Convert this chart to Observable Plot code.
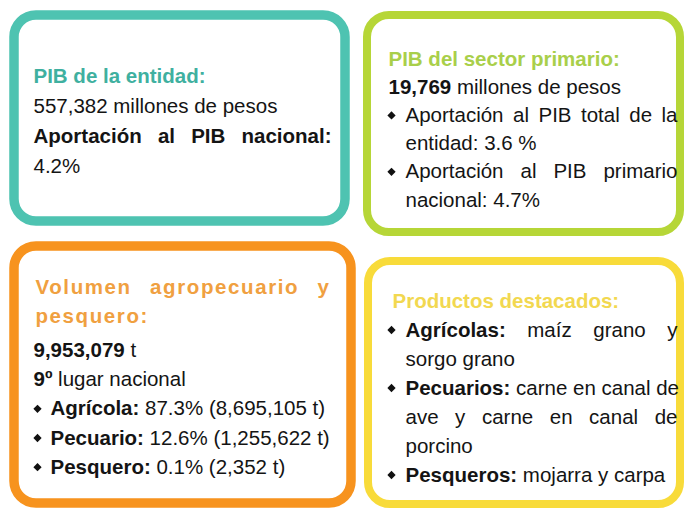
<!DOCTYPE html>
<html><head><meta charset="utf-8">
<script src="https://cdn.jsdelivr.net/npm/d3@7"></script>
<script src="https://cdn.jsdelivr.net/npm/@observablehq/plot@0.6"></script>
<style>
html,body{margin:0;padding:0;background:#fff;}
#chart svg text{white-space:pre;}
</style>
</head><body><div id="chart"></div>
<script>
// ---------- DATA (content) ----------
const titleEntidad = ["PIB de la entidad:"];
const parrafosEntidad = [
  {bullet: false, lines: [["", "557,382 millones de pesos"]]},
  {bullet: false, lines: [["Aportación al PIB nacional:", ""], ["", "4.2%"]]}
];

const titlePrimario = ["PIB del sector primario:"];
const parrafosPrimario = [
  {bullet: false, lines: [["19,769", " millones de pesos"]]},
  {bullet: true, lines: [["", "Aportación al PIB total de la"], ["", "entidad: 3.6 %"]]},
  {bullet: true, lines: [["", "Aportación al PIB primario"], ["", "nacional: 4.7%"]]}
];

const titleVolumen = ["Volumen agropecuario y", "pesquero:"];
const volumenTotal = "9,953,079";
const lugarNacional = "9º";
const volumenCategorias = ["Agrícola", "Pecuario", "Pesquero"];
const volumenPct = ["87.3%", "12.6%", "0.1%"];
const volumenTon = ["8,695,105", "1,255,622", "2,352"];
const parrafosVolumen = [
  {bullet: false, lines: [[volumenTotal, " t"]]},
  {bullet: false, lines: [[lugarNacional, " lugar nacional"]]},
  ...volumenCategorias.map((c, i) => ({bullet: true, lines: [[c + ":", ` ${volumenPct[i]} (${volumenTon[i]} t)`]]}))
];

const titleProductos = ["Productos destacados:"];
const parrafosProductos = [
  {bullet: true, lines: [["Agrícolas:", " maíz grano y"], ["", "sorgo grano"]]},
  {bullet: true, lines: [["Pecuarios:", " carne en canal de"], ["", "ave y carne en canal de"], ["", "porcino"]]},
  {bullet: true, lines: [["Pesqueros:", " mojarra y carpa"]]}
];

// ---------- LAYOUT / STYLE ----------
const W = 685, H = 509;
const FONT = "'Liberation Sans', Arial, Helvetica, sans-serif";
const FS = 20.5;
const boxes = [
  {x1: 14, x2: 345, y1: 15, y2: 221, stroke: "#4ec3b1", sw: 9.5, titleFill: "#3fb0a0",
   titleX: 33, textX: 33, bulletX: 37, indent: 50, first: 82, lh: 30, gap: 0, right: 331, ls: 0,
   title: titleEntidad, paras: parrafosEntidad},
  {x1: 367, x2: 680, y1: 15, y2: 232, stroke: "#b6d637", sw: 8, titleFill: "#a9cf4a",
   titleX: 388, textX: 388, bulletX: 391, indent: 405, first: 65, lh: 28.2, gap: 0, right: 677, ls: 0,
   title: titlePrimario, paras: parrafosPrimario},
  {x1: 14, x2: 351, y1: 246, y2: 503, stroke: "#f7931e", sw: 9.5, titleFill: "#f0a040",
   titleX: 35, textX: 33, bulletX: 37, indent: 50, first: 293, lh: 29.2, gap: 5, right: 330, ls: 1.6,
   title: titleVolumen, paras: parrafosVolumen},
  {x1: 368, x2: 680, y1: 261, y2: 504, stroke: "#f8db3a", sw: 8, titleFill: "#f2d850",
   titleX: 392, textX: 392, bulletX: 391, indent: 405, first: 307, lh: 29, gap: 0, right: 677, ls: 0,
   title: titleProductos, paras: parrafosProductos}
];

const rows = [], bullets = [];
for (const b of boxes) {
  let k = 0;
  b.title.forEach((t, j) => {
    rows.push({x: b.titleX, y: b.first + k * b.lh, bold: t, reg: "", fill: b.titleFill,
      justify: j < b.title.length - 1 ? b.right : null, ls: b.ls});
    k++;
  });
  for (const p of b.paras) {
    p.lines.forEach((ln, j) => {
      const y = b.first + k * b.lh + b.gap;
      if (p.bullet && j === 0) bullets.push({x: b.bulletX, y: y - 6.5});
      rows.push({x: p.bullet ? b.indent : b.textX, y, bold: ln[0], reg: ln[1], fill: "#141414",
        justify: j < p.lines.length - 1 ? b.right : null, ls: 0});
      k++;
    });
  }
}

const chart = Plot.plot({
  width: W, height: H, margin: 0,
  x: {domain: [0, W], range: [0, W], axis: null},
  y: {domain: [0, H], range: [0, H], axis: null},
  style: {fontFamily: FONT, background: "#ffffff"},
  marks: [
    Plot.rect(boxes, {x1: "x1", x2: "x2", y1: "y1", y2: "y2", stroke: d => d.stroke,
      strokeWidth: d => d.sw, fill: "white", rx: 22}),
    Plot.dot(bullets, {x: "x", y: "y", symbol: "square", rotate: 45, r: 3.3, fill: "#111", stroke: null}),
    Plot.text(rows, {x: "x", y: "y", text: d => d.bold + d.reg, fill: d => d.fill,
      textAnchor: "start", lineAnchor: "bottom", fontSize: FS})
  ]
});
document.getElementById("chart").appendChild(chart);

// split each line into bold / regular runs and justify wrapped lines
const svg = d3.select(chart);
svg.selectAll('g[aria-label="text"] text').each(function () {
  const i = d3.select(this).datum();
  const r = rows[i];
  const el = d3.select(this);
  el.text(null);
  if (r.bold) el.append("tspan").attr("font-weight", "bold").text(r.bold);
  if (r.reg) el.append("tspan").text(r.reg);
  if (r.ls) el.style("letter-spacing", r.ls + "px");
  if (r.justify != null) {
    const full = (r.bold + r.reg).trim();
    const n = (full.match(/ /g) || []).length;
    const L = this.getComputedTextLength();
    const extra = (r.justify - r.x) - L;
    if (n > 0 && extra > 0) el.style("word-spacing", (extra / n) + "px");
  }
});
</script>
</body></html>
